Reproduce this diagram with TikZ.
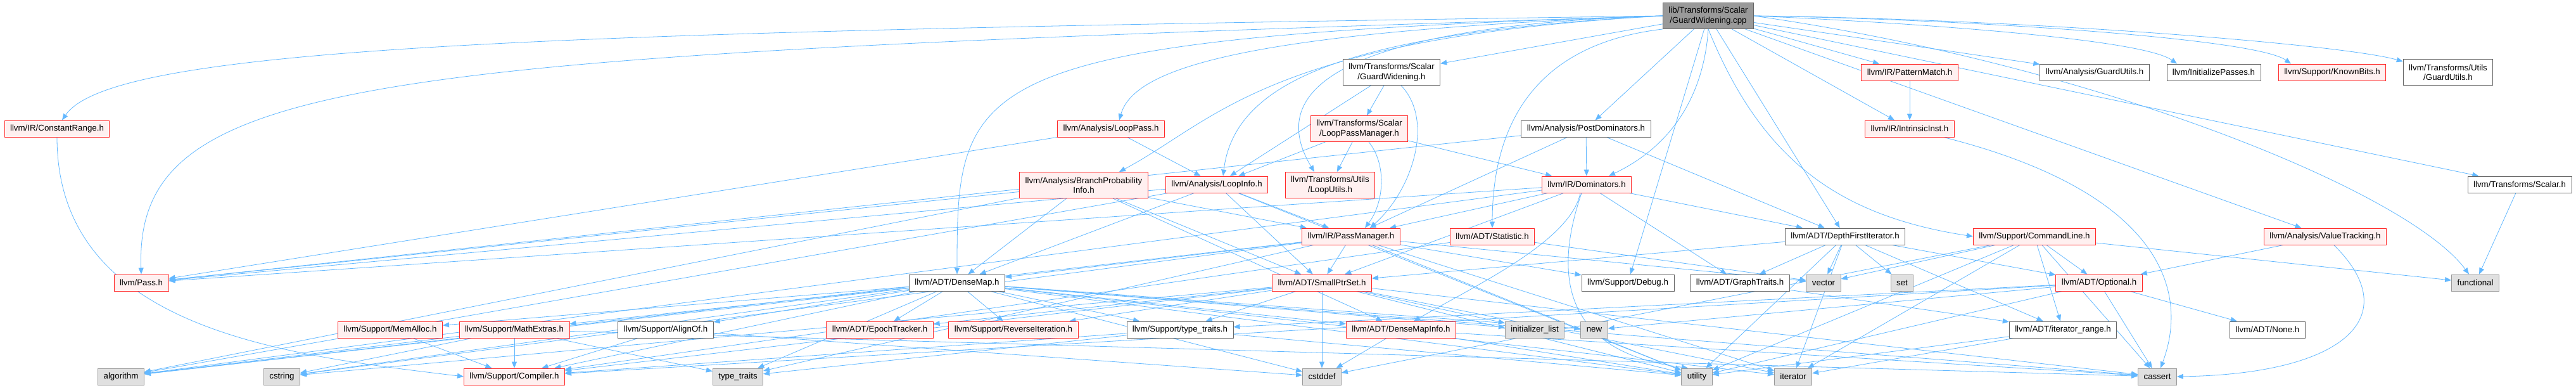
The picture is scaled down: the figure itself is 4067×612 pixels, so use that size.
\documentclass[tikz,border=0pt]{standalone}
\usepackage{fontspec}
\setmainfont{Liberation Sans}
\usepackage{tikz}
\usetikzlibrary{arrows.meta, backgrounds}
\definecolor{dxedge}{RGB}{99,184,255}
\definecolor{dxred}{RGB}{255,40,40}
\definecolor{dxredfill}{RGB}{255,240,240}
\definecolor{dxgray}{RGB}{102,102,102}
\definecolor{dxsysdraw}{RGB}{153,153,153}
\definecolor{dxsysfill}{RGB}{224,224,224}
\definecolor{dxsrcfill}{RGB}{153,153,153}
\tikzset{
  %% ---- boxes ----
  hdr/.style      = {rectangle, draw, line width=0.9pt, inner xsep=9pt,
                     inner ysep=0pt, minimum height=26pt, align=center,
                     font=\fontsize{13.3}{15.5}\selectfont},
  redhdr/.style   = {hdr, draw=dxred, fill=dxredfill},
  plainhdr/.style = {hdr, draw=dxgray, fill=white},
  syshdr/.style   = {hdr, draw=dxsysdraw, fill=dxsysfill},
  srchdr/.style   = {hdr, draw=dxgray, fill=dxsrcfill},
  twoline/.style  = {minimum height=41pt},
  %% ---- arrows ----
  dep/.style      = {draw=dxedge, line width=0.8pt,
                     -{Triangle[length=10pt, width=8pt]}},
}

\begin{document}
\begin{tikzpicture}[x=1pt, y=1pt]
\useasboundingbox (0,0) rectangle (4067,-612);

%% ── Row 0: the source file ────────────────────────────────────────────────
\node[srchdr, twoline] (src) at (2697,-25) {lib/Transforms/Scalar\\/GuardWidening.cpp};

%% ── Row 1 ─────────────────────────────────────────────────────────────────
\node[plainhdr, twoline] (gwh) at (2197,-114) {llvm/Transforms/Scalar\\/GuardWidening.h};
\node[redhdr]   (pattern)   at (3015,-114) {llvm/IR/PatternMatch.h};
\node[plainhdr] (aguard)    at (3307,-114) {llvm/Analysis/GuardUtils.h};
\node[plainhdr] (initpass)  at (3495,-114) {llvm/InitializePasses.h};
\node[redhdr]   (knownbits) at (3682,-114) {llvm/Support/KnownBits.h};
\node[plainhdr, twoline] (uguard) at (3865,-114) {llvm/Transforms/Utils\\/GuardUtils.h};

%% ── Row 2 ─────────────────────────────────────────────────────────────────
\node[redhdr]   (crange)    at (90,-203)   {llvm/IR/ConstantRange.h};
\node[redhdr]   (looppass)  at (1754,-203) {llvm/Analysis/LoopPass.h};
\node[redhdr, twoline] (lpm) at (2146,-203) {llvm/Transforms/Scalar\\/LoopPassManager.h};
\node[plainhdr] (postdom)   at (2504,-203) {llvm/Analysis/PostDominators.h};
\node[redhdr]   (intrinsic) at (3015,-203) {llvm/IR/IntrinsicInst.h};

%% ── Row 3 ─────────────────────────────────────────────────────────────────
\node[redhdr, twoline] (bpi) at (1711,-292) {llvm/Analysis/BranchProbability\\Info.h};
\node[redhdr]   (loopinfo)  at (1921,-291) {llvm/Analysis/LoopInfo.h};
\node[redhdr, twoline] (looputils) at (2100,-292) {llvm/Transforms/Utils\\/LoopUtils.h};
\node[redhdr]   (dom)       at (2505,-291) {llvm/IR/Dominators.h};
\node[plainhdr] (tscalar)   at (3978,-291) {llvm/Transforms/Scalar.h};

%% ── Row 4 ─────────────────────────────────────────────────────────────────
\node[redhdr]   (passmgr)    at (2133,-373) {llvm/IR/PassManager.h};
\node[redhdr]   (statistic)  at (2356,-373) {llvm/ADT/Statistic.h};
\node[plainhdr] (dfi)        at (2913,-373) {llvm/ADT/DepthFirstIterator.h};
\node[redhdr]   (cmdline)    at (3212,-373) {llvm/Support/CommandLine.h};
\node[redhdr]   (valuetrack) at (3671,-373) {llvm/Analysis/ValueTracking.h};

%% ── Row 5 ─────────────────────────────────────────────────────────────────
\node[redhdr]   (pass)        at (223,-446)  {llvm/Pass.h};
\node[plainhdr] (densemap)    at (1511,-446) {llvm/ADT/DenseMap.h};
\node[redhdr]   (smallptrset) at (2087,-446) {llvm/ADT/SmallPtrSet.h};
\node[plainhdr] (debug)       at (2570,-446) {llvm/Support/Debug.h};
\node[plainhdr] (graphtraits) at (2747,-446) {llvm/ADT/GraphTraits.h};
\node[syshdr]   (vector)      at (2879,-446) {vector};
\node[syshdr]   (sethdr)      at (3003,-446) {set};
\node[redhdr]   (optional)    at (3314,-446) {llvm/ADT/Optional.h};
\node[syshdr]   (functional)  at (3908,-446) {functional};

%% ── Row 6 ─────────────────────────────────────────────────────────────────
\node[redhdr]   (memalloc)     at (616,-520)  {llvm/Support/MemAlloc.h};
\node[redhdr]   (mathextras)   at (812,-520)  {llvm/Support/MathExtras.h};
\node[plainhdr] (alignof)      at (1051,-520) {llvm/Support/AlignOf.h};
\node[redhdr]   (epoch)        at (1389,-520) {llvm/ADT/EpochTracker.h};
\node[redhdr]   (reverseiter)  at (1600,-520) {llvm/Support/ReverseIteration.h};
\node[plainhdr] (typetraitsh)  at (1863,-520) {llvm/Support/type\_traits.h};
\node[redhdr]   (densemapinfo) at (2212,-520) {llvm/ADT/DenseMapInfo.h};
\node[syshdr]   (initlist)     at (2423,-520) {initializer\_list};
\node[syshdr]   (newhdr)       at (2517,-520) {new};
\node[plainhdr] (itrange)      at (3257,-520) {llvm/ADT/iterator\_range.h};
\node[plainhdr] (none)         at (3580,-520) {llvm/ADT/None.h};

%% ── Row 7: system headers ─────────────────────────────────────────────────
\node[syshdr]   (algorithm)  at (191,-594)  {algorithm};
\node[syshdr]   (cstring)    at (445,-594)  {cstring};
\node[redhdr]   (compiler)   at (812,-594)  {llvm/Support/Compiler.h};
\node[syshdr]   (typetraits) at (1165,-594) {type\_traits};
\node[syshdr]   (cstddef)    at (2087,-594) {cstddef};
\node[syshdr]   (utility)    at (2679,-594) {utility};
\node[syshdr]   (iterator)   at (2831,-594) {iterator};
\node[syshdr]   (cassert)    at (3406,-594) {cassert};

\begin{scope}[on background layer]
%% ── Includes of the source file ───────────────────────────────────────────
\draw[dep] (src) -- (gwh);
\draw[dep] (src) -- (pattern);
\draw[dep] (src) -- (intrinsic);
\draw[dep] (src) -- (aguard);
\draw[dep] (src.east) .. controls (3000,-35) and (3380,-60) .. ([xshift=-58pt]initpass.north);
\draw[dep] (src.east) .. controls (3100,-30) and (3560,-60) .. ([xshift=-65pt]knownbits.north);
\draw[dep] (src.east) .. controls (3200,-30) and (3700,-70) .. ([yshift=-4pt]uguard.north west);
\draw[dep] (src) -- (tscalar);
\draw[dep] (src) -- (valuetrack);
\draw[dep] (src.east) .. controls (3300,-100) and (3800,-300) .. ([xshift=-10pt]functional.north);
\draw[dep] (src.south) .. controls (2780,-250) and (2900,-340) .. (cmdline.west);
\draw[dep] (src) -- (dfi);
\draw[dep] (src) -- (debug);
\draw[dep] (src.south west) .. controls (2420,-70) and (2356,-200) .. (statistic.north);
\draw[dep] (src.south) .. controls (2690,-150) and (2640,-230) .. ([xshift=35pt]dom.north);
\draw[dep] (src) -- (postdom);
\draw[dep] (src.west) .. controls (2150,-40) and (1990,-130) .. ([xshift=-25pt]looputils.north);
\draw[dep] (src.west) .. controls (2150,-50) and (1950,-120) .. ([xshift=10pt]loopinfo.north);
\draw[dep] (src.west) .. controls (2000,-60) and (1920,-190) .. ([xshift=56pt]bpi.north);
\draw[dep] (src.west) .. controls (1950,-50) and (1790,-110) .. ([xshift=13pt]looppass.north);
\draw[dep] (src.west) .. controls (1520,-60) and (1511,-120) .. (densemap.north);
\draw[dep] (src.west) .. controls (600,-90) and (212,-110) .. (pass.north);
\draw[dep] (src.west) .. controls (900,-50) and (180,-70) .. ([xshift=8pt]crange.north);

%% ── Second level ──────────────────────────────────────────────────────────
\draw[dep] (crange.south) .. controls (90,-520) and (450,-560) .. (compiler.west);
\draw[dep] (gwh) -- (lpm);
\draw[dep] ([xshift=15pt]gwh.south) .. controls (2265,-190) and (2230,-300) .. ([xshift=30pt]passmgr.north);
\draw[dep] (gwh) -- (loopinfo);
\draw[dep] (lpm) -- (loopinfo);
\draw[dep] (lpm) -- (looputils);
\draw[dep] ([xshift=15pt]lpm.south) .. controls (2190,-260) and (2185,-320) .. ([xshift=22pt]passmgr.north);
\draw[dep] (lpm) -- (dom);
\draw[dep] (looppass) -- (loopinfo);
\draw[dep] (looppass) -- (pass);
\draw[dep] (pattern) -- (intrinsic);
\draw[dep] (intrinsic) .. controls (3400,-300) and (3460,-450) .. (cassert);
\draw[dep] (tscalar) -- (functional);

%% ── Analysis and IR headers ───────────────────────────────────────────────
\draw[dep] (postdom) -- (dom);
\draw[dep] (postdom) -- (passmgr);
\draw[dep] (postdom) -- (dfi);
\draw[dep] (postdom) -- (pass);
\draw[dep] (bpi) -- (densemap);
\draw[dep] (bpi) -- (smallptrset);
\draw[dep] (bpi) -- (passmgr);
\draw[dep] (bpi) -- (pass);
\draw[dep] (bpi) -- (algorithm);
\draw[dep] (bpi) -- (densemapinfo);
\draw[dep] (loopinfo) -- (densemap);
\draw[dep] (loopinfo) -- (smallptrset);
\draw[dep] (loopinfo) -- (passmgr);
\draw[dep] (loopinfo) -- (pass);
\draw[dep] (loopinfo) -- (algorithm);
\draw[dep] (loopinfo) -- (utility);
\draw[dep] (dom) -- (passmgr);
\draw[dep] (dom) -- (dfi);
\draw[dep] (dom) -- (graphtraits);
\draw[dep] ([xshift=-10pt]dom.south) .. controls (2480,-380) and (2330,-450) .. ([xshift=20pt]densemapinfo.north);
\draw[dep] ([xshift=-8pt]dom.south) .. controls (2440,-470) and (2500,-560) .. ([xshift=-14pt]utility.north);
\draw[dep] (dom) -- (pass);
\draw[dep] (dom) -- (smallptrset);
\draw[dep] (dom) -- (algorithm);
\draw[dep] (valuetrack) -- (optional);
\draw[dep] (valuetrack) .. controls (3800,-500) and (3700,-590) .. (cassert.east);
\draw[dep] (passmgr) -- (densemap);
\draw[dep] (passmgr) -- (smallptrset);
\draw[dep] (passmgr) -- (debug);
\draw[dep] (passmgr) -- (vector);
\draw[dep] (passmgr) -- (algorithm);
\draw[dep] (passmgr) -- (cstring);
\draw[dep] (passmgr) -- (iterator);
\draw[dep] (passmgr) -- (utility);
\draw[dep] (passmgr) -- (typetraits);
\draw[dep] (statistic) -- (vector);
\draw[dep] (statistic) -- (compiler);

%% ── ADT and Support headers ───────────────────────────────────────────────
\draw[dep] (dfi) -- (graphtraits);
\draw[dep] (dfi) -- (vector);
\draw[dep] (dfi) -- (sethdr);
\draw[dep] (dfi) -- (itrange);
\draw[dep] (dfi) -- (optional);
\draw[dep] (dfi) -- (smallptrset);
\draw[dep] (dfi) -- (iterator);
\draw[dep] (dfi) -- (utility);
\draw[dep] (cmdline) -- (vector);
\draw[dep] (cmdline) -- (optional);
\draw[dep] (cmdline) -- (functional);
\draw[dep] (cmdline) -- (cassert);
\draw[dep] (cmdline) -- (itrange);
\draw[dep] (cmdline) -- (utility);
\draw[dep] (cmdline) -- (iterator);
\draw[dep] (cmdline) -- (cstddef);
\draw[dep] (optional) -- (none);
\draw[dep] (optional) -- (compiler);
\draw[dep] (optional) -- (typetraitsh);
\draw[dep] (optional) -- (cassert);
\draw[dep] (optional) -- (newhdr);
\draw[dep] (optional) -- (utility);
\draw[dep] (graphtraits) -- (itrange);
\draw[dep] (itrange) -- (iterator);
\draw[dep] (itrange) -- (utility);
\draw[dep] (densemap) -- (densemapinfo);
\draw[dep] (densemap) -- (epoch);
\draw[dep] (densemap) -- (alignof);
\draw[dep] (densemap) -- (compiler);
\draw[dep] (densemap) -- (mathextras);
\draw[dep] (densemap) -- (memalloc);
\draw[dep] (densemap) -- (reverseiter);
\draw[dep] (densemap) -- (typetraitsh);
\draw[dep] (densemap) -- (algorithm);
\draw[dep] (densemap) -- (cassert);
\draw[dep] (densemap) -- (cstddef);
\draw[dep] (densemap) -- (cstring);
\draw[dep] (densemap) -- (initlist);
\draw[dep] (densemap) -- (iterator);
\draw[dep] (densemap) -- (newhdr);
\draw[dep] (densemap) -- (typetraits);
\draw[dep] (densemap) -- (utility);
\draw[dep] (smallptrset) -- (epoch);
\draw[dep] (smallptrset) -- (reverseiter);
\draw[dep] (smallptrset) -- (typetraitsh);
\draw[dep] (smallptrset) -- (compiler);
\draw[dep] (smallptrset) -- (cassert);
\draw[dep] (smallptrset) -- (cstddef);
\draw[dep] (smallptrset) -- (cstring);
\draw[dep] (smallptrset) -- (initlist);
\draw[dep] (smallptrset) -- (iterator);
\draw[dep] (smallptrset) -- (utility);
\draw[dep] (densemapinfo) -- (cassert);
\draw[dep] (densemapinfo) -- (cstddef);
\draw[dep] (densemapinfo) -- (utility);
\draw[dep] (memalloc) -- (compiler);
\draw[dep] (mathextras) -- (compiler);
\draw[dep] (mathextras) -- (algorithm);
\draw[dep] (mathextras) -- (cstring);
\draw[dep] (mathextras) -- (typetraits);
\draw[dep] (mathextras) -- (cassert);
\draw[dep] (alignof) -- (compiler);
\draw[dep] (alignof) -- (cstddef);
\draw[dep] (typetraitsh) -- (compiler);
\draw[dep] (typetraitsh) -- (typetraits);
\draw[dep] (typetraitsh) -- (utility);
\end{scope}

\end{tikzpicture}
\end{document}
